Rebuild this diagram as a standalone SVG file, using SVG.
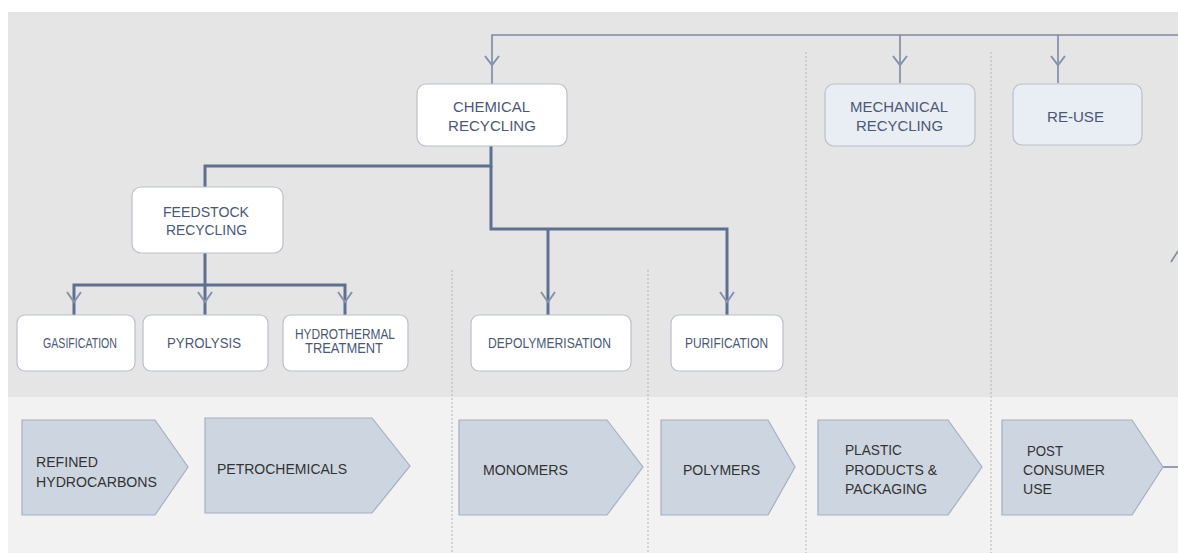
<svg xmlns="http://www.w3.org/2000/svg" width="1178" height="553" viewBox="0 0 1178 553">
<style>
.node{fill:#ffffff;stroke:#b9bfca;stroke-width:1.2}
.node2{fill:#e9edf4;stroke:#b9bfca;stroke-width:1.2}
.nt{font-family:"Liberation Sans",Arial,sans-serif;font-size:15px;fill:#4b5876}
.ns{font-family:"Liberation Sans",Arial,sans-serif;font-size:14.5px;fill:#4b5876}
.stage{fill:#cdd5e1;stroke:#a6b0c0;stroke-width:1.2}
.st{font-family:"Liberation Sans",Arial,sans-serif;font-size:15px;fill:#333333}
.wire{fill:none;stroke:#5f6f90;stroke-width:3}
.wire2{fill:none;stroke:#7d8aa3;stroke-width:1.6}
.chev{fill:none;stroke:#8593ad;stroke-width:2}
.dash{stroke:#b4b4b4;stroke-width:1;stroke-dasharray:2 2}
</style>
<rect x="0" y="0" width="1178" height="553" fill="#ffffff"/>
<rect x="8" y="12" width="1170" height="385" fill="#e5e5e5"/>
<rect x="8" y="397" width="1170" height="156" fill="#f2f2f2"/>
<g id="dividers">
<line class="dash" x1="806" y1="52" x2="806" y2="553"/>
<line class="dash" x1="991" y1="52" x2="991" y2="553"/>
<line class="dash" x1="452" y1="270" x2="452" y2="553"/>
<line class="dash" x1="648" y1="270" x2="648" y2="553"/>
</g>
<g id="connectors">
<path class="wire2" d="M492,84 V35 H1178"/>
<path class="wire2" d="M900,35 V83"/>
<path class="wire2" d="M1058,35 V83"/>
<path class="wire" d="M491,146 V166 H205 V187"/>
<path class="wire" d="M491,166 V229 H727 V315"/>
<path class="wire" d="M548,229 V315"/>
<path class="wire" d="M205,253 V315"/>
<path class="wire" d="M74,315 V285 H345 V315"/>
<path class="chev" d="M485,56 L492,65 L499,56"/>
<path class="chev" d="M893,56 L900,65 L907,56"/>
<path class="chev" d="M1051,56 L1058,65 L1065,56"/>
<path class="chev" d="M67,292 L74,302 L81,292"/>
<path class="chev" d="M198,292 L205,302 L212,292"/>
<path class="chev" d="M338,292 L345,302 L352,292"/>
<path class="chev" d="M541,292 L548,302 L555,292"/>
<path class="chev" d="M720,292 L727,302 L734,292"/>
<path class="wire2" d="M1163,467 H1178"/>
<path class="wire2" d="M1171,262 L1178,251"/>
</g>
<g id="chemical-recycling">
<rect class="node" x="417" y="84" width="150" height="62" rx="9"/>
<text class="nt" x="453" y="112" textLength="77" lengthAdjust="spacingAndGlyphs">CHEMICAL</text>
<text class="nt" x="448" y="131" textLength="88" lengthAdjust="spacingAndGlyphs">RECYCLING</text>
</g>
<g id="mechanical-recycling">
<rect class="node2" x="825" y="84" width="150" height="62" rx="9"/>
<text class="nt" x="850" y="112" textLength="98" lengthAdjust="spacingAndGlyphs">MECHANICAL</text>
<text class="nt" x="856" y="131" textLength="87" lengthAdjust="spacingAndGlyphs">RECYCLING</text>
</g>
<g id="re-use">
<rect class="node2" x="1013" y="84" width="129" height="61" rx="9"/>
<text class="nt" x="1047" y="122" textLength="57" lengthAdjust="spacingAndGlyphs">RE-USE</text>
</g>
<g id="feedstock-recycling">
<rect class="node" x="132" y="187" width="151" height="66" rx="9"/>
<text class="nt" x="163" y="217" textLength="86" lengthAdjust="spacingAndGlyphs">FEEDSTOCK</text>
<text class="nt" x="166" y="235" textLength="81" lengthAdjust="spacingAndGlyphs">RECYCLING</text>
</g>
<g id="gasification">
<rect class="node" x="17" y="315" width="118" height="56" rx="8"/>
<text class="ns" x="43" y="348" textLength="74" lengthAdjust="spacingAndGlyphs">GASIFICATION</text>
</g>
<g id="pyrolysis">
<rect class="node" x="143" y="315" width="125" height="56" rx="8"/>
<text class="ns" x="167" y="348" textLength="74" lengthAdjust="spacingAndGlyphs">PYROLYSIS</text>
</g>
<g id="hydrothermal-treatment">
<rect class="node" x="283" y="315" width="125" height="56" rx="8"/>
<text class="ns" x="295" y="339" textLength="100" lengthAdjust="spacingAndGlyphs">HYDROTHERMAL</text>
<text class="ns" x="305" y="353" textLength="78" lengthAdjust="spacingAndGlyphs">TREATMENT</text>
</g>
<g id="depolymerisation">
<rect class="node" x="471" y="315" width="160" height="56" rx="8"/>
<text class="ns" x="488" y="348" textLength="123" lengthAdjust="spacingAndGlyphs">DEPOLYMERISATION</text>
</g>
<g id="purification">
<rect class="node" x="671" y="315" width="112" height="56" rx="8"/>
<text class="ns" x="685" y="348" textLength="83" lengthAdjust="spacingAndGlyphs">PURIFICATION</text>
</g>
<g id="refined-hydrocarbons">
<path class="stage" d="M22,420 H155 L188,467 L155,515 H22 Z"/>
<text class="st" x="36" y="467" textLength="62" lengthAdjust="spacingAndGlyphs">REFINED</text>
<text class="st" x="36" y="487" textLength="121" lengthAdjust="spacingAndGlyphs">HYDROCARBONS</text>
</g>
<g id="petrochemicals">
<path class="stage" d="M205,418 H372 L410,466 L372,513 H205 Z"/>
<text class="st" x="217" y="474" textLength="130" lengthAdjust="spacingAndGlyphs">PETROCHEMICALS</text>
</g>
<g id="monomers">
<path class="stage" d="M459,420 H607 L643,467 L607,515 H459 Z"/>
<text class="st" x="483" y="475" textLength="85" lengthAdjust="spacingAndGlyphs">MONOMERS</text>
</g>
<g id="polymers">
<path class="stage" d="M661,420 H768 L795,467 L768,515 H661 Z"/>
<text class="st" x="683" y="475" textLength="77" lengthAdjust="spacingAndGlyphs">POLYMERS</text>
</g>
<g id="plastic-products">
<path class="stage" d="M818,420 H948 L982,467 L948,515 H818 Z"/>
<text class="st" x="845" y="455" textLength="57" lengthAdjust="spacingAndGlyphs">PLASTIC</text>
<text class="st" x="845" y="475" textLength="92" lengthAdjust="spacingAndGlyphs">PRODUCTS &amp;</text>
<text class="st" x="845" y="494" textLength="82" lengthAdjust="spacingAndGlyphs">PACKAGING</text>
</g>
<g id="post-consumer-use">
<path class="stage" d="M1002,420 H1132 L1163,467 L1132,515 H1002 Z"/>
<text class="st" x="1027" y="456" textLength="36" lengthAdjust="spacingAndGlyphs">POST</text>
<text class="st" x="1023" y="475" textLength="82" lengthAdjust="spacingAndGlyphs">CONSUMER</text>
<text class="st" x="1023" y="494" textLength="29" lengthAdjust="spacingAndGlyphs">USE</text>
</g>
</svg>
